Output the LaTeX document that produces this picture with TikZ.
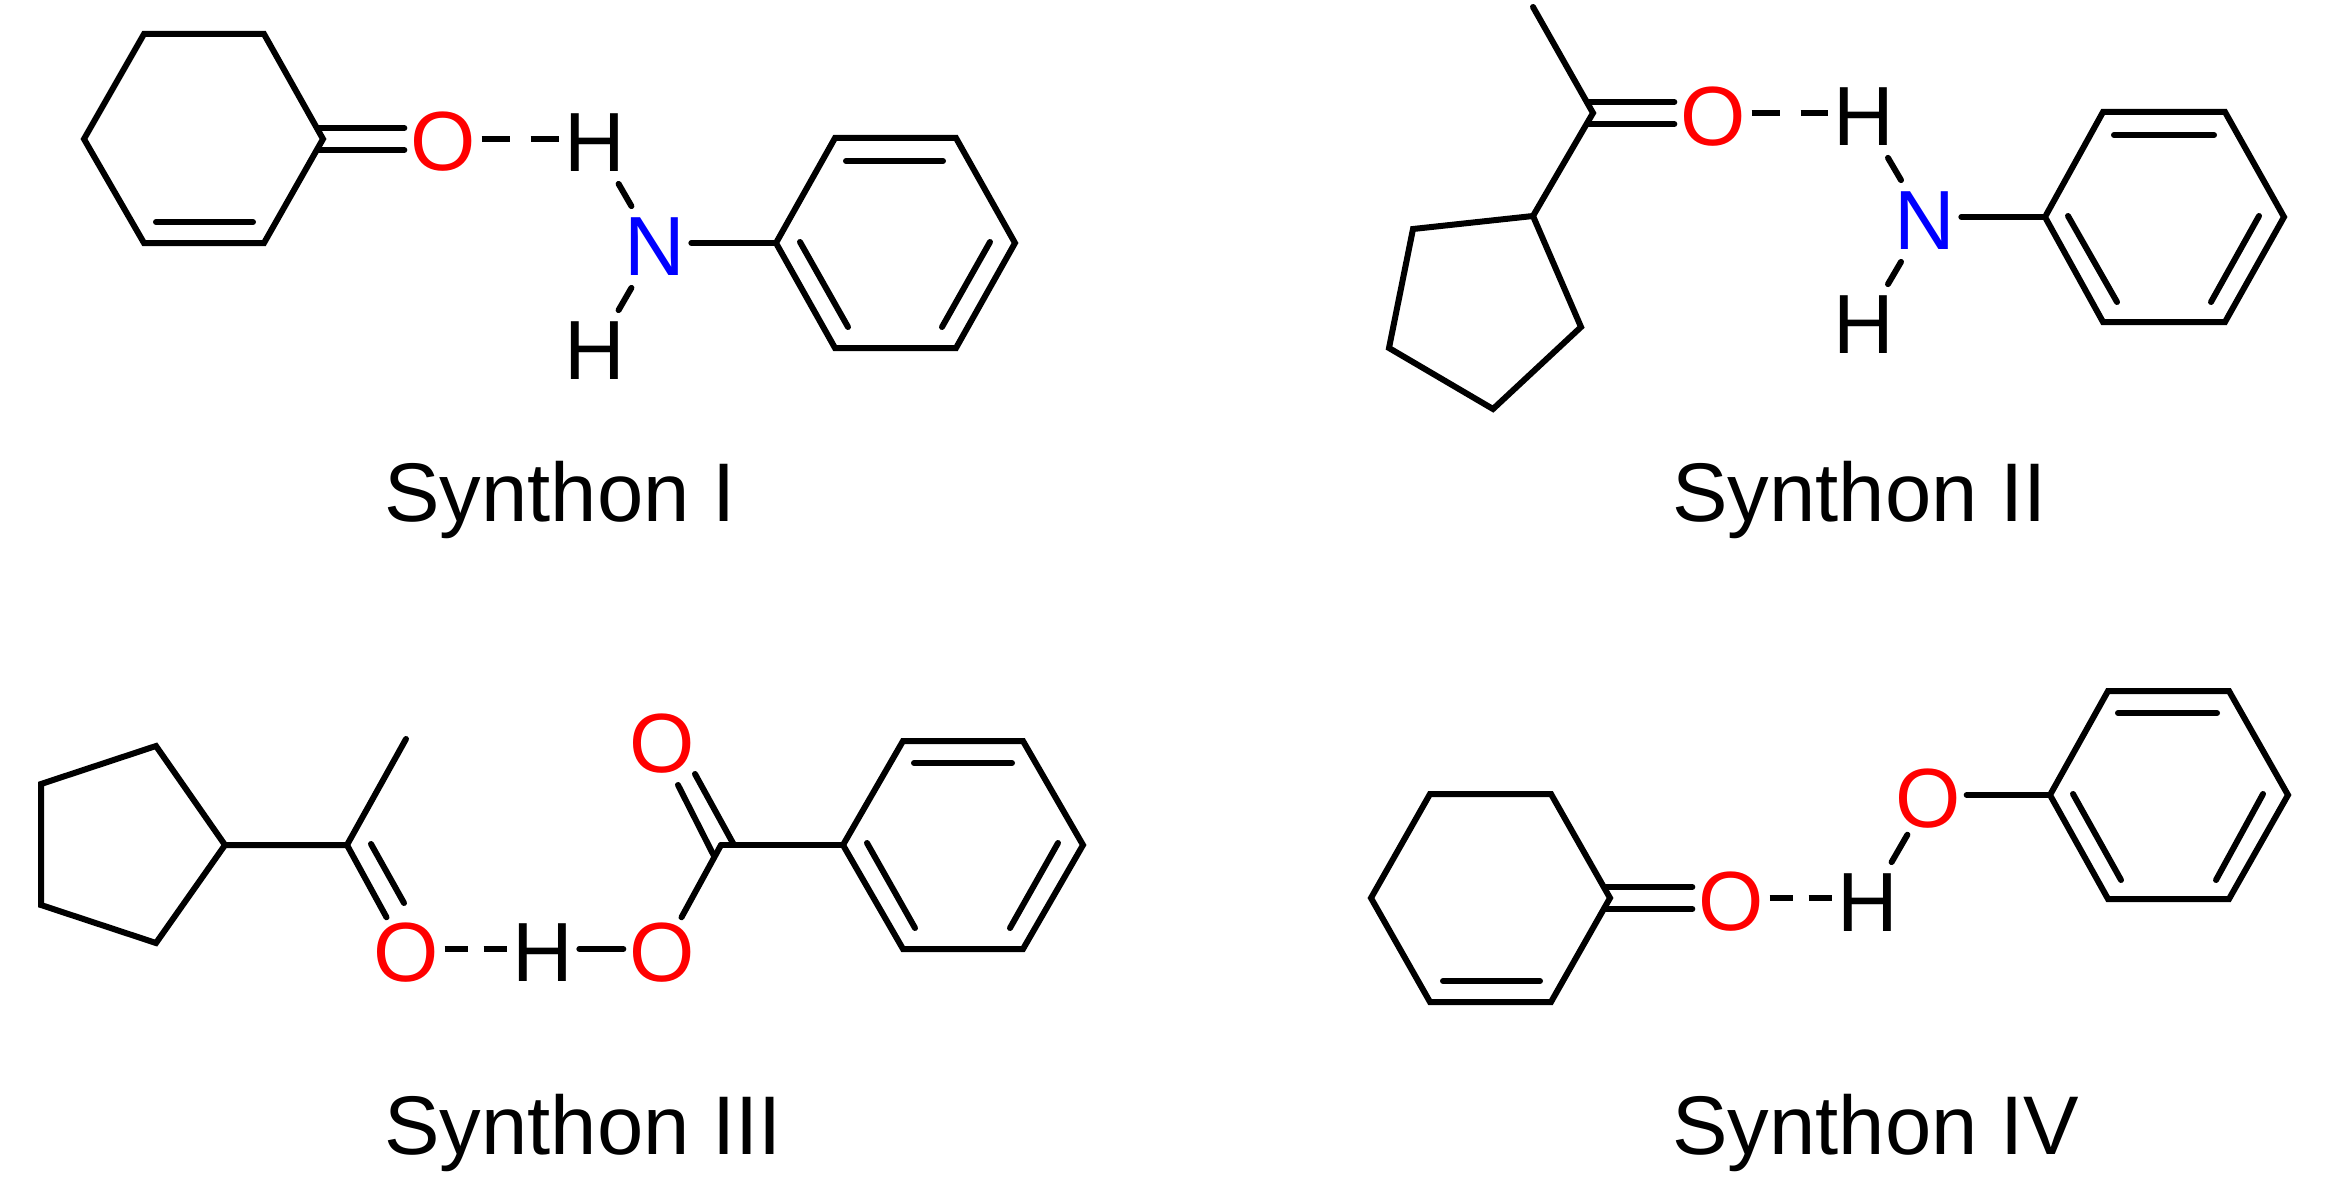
\documentclass[tikz,border=0pt]{standalone}
\usepackage{fontspec}
\setmainfont{Liberation Sans}
\tikzset{
	bond/.style={line width=3pt, line cap=round, line join=miter},
	hbondlong/.style={line width=3pt, dash pattern=on 14pt off 10.5pt},
	hbondshort/.style={line width=3pt, dash pattern=on 11.5pt off 8pt},
	atom/.style={font=\fontsize{42}{42}\selectfont, inner xsep=3pt, inner ysep=6pt, outer sep=0pt},
	oxygen/.style={atom, text=red, inner ysep=3pt},
	nitrogen/.style={atom, text=blue},
	hydrogen/.style={atom},
	caption/.style={font=\fontsize{41.6}{42}\selectfont, anchor=base west, inner sep=0pt}
}
\begin{document}
\begin{tikzpicture}[x=0.5pt, y=-0.5pt]
	\useasboundingbox (0,0) rectangle (2341,1204);

	% Synthon I
	\begin{scope}
		% Define the ring corners and the atoms
		\coordinate (a1) at (144,34); \coordinate (a2) at (264,34); \coordinate (a3) at (323,139);
		\coordinate (a4) at (264,243); \coordinate (a5) at (144,243); \coordinate (a6) at (84,139);
		\coordinate (a7) at (156,222); \coordinate (a8) at (253,222);
		\coordinate (a9) at (318,128); \coordinate (a10) at (318,150);
		\coordinate (b1) at (776,243); \coordinate (b2) at (835,138); \coordinate (b3) at (956,138);
		\coordinate (b4) at (1015,243); \coordinate (b5) at (956,348); \coordinate (b6) at (835,348);
		\coordinate (b7) at (846,161); \coordinate (b8) at (943,161);
		\coordinate (b9) at (800,242); \coordinate (b10) at (848,327);
		\coordinate (b11) at (990,242); \coordinate (b12) at (942,327);
		\node[oxygen] (o1) at (443,142) {O};
		\node[hydrogen] (h1) at (595,143) {H};
		\node[nitrogen] (n1) at (655,247) {N};
		\node[hydrogen] (h2) at (595,351) {H};
		\node[caption] (s1) at (384,521) {Synthon I};

		% Draw the bonds
		\draw[bond] (a1) -- (a2) -- (a3) -- (a4) -- (a5) -- (a6) -- cycle;
		\draw[bond] (a7) -- (a8);
		\draw[bond] (a9) -- (o1.west |- a9);
		\draw[bond] (a10) -- (o1.west |- a10);
		\draw[hbondlong] (o1.east |- a3) -- (h1.west |- a3);
		\draw[bond] (h1) -- (n1);
		\draw[bond] (n1) -- (h2);
		\draw[bond] (n1.east |- b1) -- (b1);
		\draw[bond] (b1) -- (b2) -- (b3) -- (b4) -- (b5) -- (b6) -- cycle;
		\draw[bond] (b7) -- (b8);
		\draw[bond] (b9) -- (b10);
		\draw[bond] (b11) -- (b12);
	\end{scope}

	% Synthon II
	\begin{scope}
		\coordinate (c1) at (1533,7); \coordinate (c2) at (1593,113); \coordinate (c3) at (1533,216);
		\coordinate (c4) at (1413,229); \coordinate (c5) at (1389,348);
		\coordinate (c6) at (1493,409); \coordinate (c7) at (1581,327);
		\coordinate (c8) at (1587,102); \coordinate (c9) at (1587,124);
		\coordinate (d1) at (2045,217); \coordinate (d2) at (2103,112); \coordinate (d3) at (2225,112);
		\coordinate (d4) at (2284,217); \coordinate (d5) at (2225,322); \coordinate (d6) at (2103,322);
		\coordinate (d7) at (2114,135); \coordinate (d8) at (2214,135);
		\coordinate (d9) at (2068,216); \coordinate (d10) at (2117,302);
		\coordinate (d11) at (2259,216); \coordinate (d12) at (2211,302);
		\node[oxygen] (o2) at (1713,117) {O};
		\node[hydrogen] (h3) at (1864,117) {H};
		\node[nitrogen] (n2) at (1925,221) {N};
		\node[hydrogen] (h4) at (1864,325) {H};
		\node[caption] (s2) at (1672,521) {Synthon II};

		\draw[bond] (c1) -- (c2) -- (c3);
		\draw[bond] (c3) -- (c4) -- (c5) -- (c6) -- (c7) -- cycle;
		\draw[bond] (c8) -- (o2.west |- c8);
		\draw[bond] (c9) -- (o2.west |- c9);
		\draw[hbondlong] (o2.east |- c2) -- (h3.west |- c2);
		\draw[bond] (h3) -- (n2);
		\draw[bond] (n2) -- (h4);
		\draw[bond] (n2.east |- d1) -- (d1);
		\draw[bond] (d1) -- (d2) -- (d3) -- (d4) -- (d5) -- (d6) -- cycle;
		\draw[bond] (d7) -- (d8);
		\draw[bond] (d9) -- (d10);
		\draw[bond] (d11) -- (d12);
	\end{scope}

	% Synthon III
	\begin{scope}
		\coordinate (e1) at (156,746); \coordinate (e2) at (41,784); \coordinate (e3) at (41,905);
		\coordinate (e4) at (156,943); \coordinate (e5) at (225,845);
		\coordinate (e6) at (347,845); \coordinate (e7) at (406,739);
		\coordinate (e8) at (371,844); \coordinate (e9) at (404,903);
		\coordinate (e10) at (721,845);
		\coordinate (e11) at (734,845); \coordinate (e12) at (695,774);
		\coordinate (e13) at (714,856); \coordinate (e14) at (678,785);
		\coordinate (f1) at (843,845); \coordinate (f2) at (903,741); \coordinate (f3) at (1023,741);
		\coordinate (f4) at (1083,845); \coordinate (f5) at (1023,949); \coordinate (f6) at (903,949);
		\coordinate (f7) at (914,763); \coordinate (f8) at (1012,763);
		\coordinate (f9) at (867,843); \coordinate (f10) at (915,928);
		\coordinate (f11) at (1058,843); \coordinate (f12) at (1010,928);
		\node[oxygen] (o3) at (406,953) {O};
		\node[hydrogen] (h5) at (543,953) {H};
		\node[oxygen] (o4) at (662,953) {O};
		\node[oxygen] (o5) at (662,744) {O};
		\node[caption] (s3) at (384,1154) {Synthon III};

		\draw[bond] (e1) -- (e2) -- (e3) -- (e4) -- (e5) -- cycle;
		\draw[bond] (e5) -- (e6) -- (e7);
		\draw[bond] (e6) -- (o3);
		\draw[bond] (e8) -- (e9);
		\draw[hbondshort] (o3.east |- f5) -- (h5.west |- f5);
		\draw[bond] (h5.east |- f5) -- (o4.west |- f5);
		\draw[bond] (o4) -- (e10);
		\draw[bond] (e10) -- (f1);
		\draw[bond] (e11) -- (e12);
		\draw[bond] (e13) -- (e14);
		\draw[bond] (f1) -- (f2) -- (f3) -- (f4) -- (f5) -- (f6) -- cycle;
		\draw[bond] (f7) -- (f8);
		\draw[bond] (f9) -- (f10);
		\draw[bond] (f11) -- (f12);
	\end{scope}

	% Synthon IV
	\begin{scope}
		\coordinate (g1) at (1430,794); \coordinate (g2) at (1551,794); \coordinate (g3) at (1610,898);
		\coordinate (g4) at (1551,1002); \coordinate (g5) at (1430,1002); \coordinate (g6) at (1371,898);
		\coordinate (g7) at (1443,981); \coordinate (g8) at (1540,981);
		\coordinate (g9) at (1606,887); \coordinate (g10) at (1606,909);
		\coordinate (k1) at (2050,795); \coordinate (k2) at (2108,691); \coordinate (k3) at (2229,691);
		\coordinate (k4) at (2288,795); \coordinate (k5) at (2229,899); \coordinate (k6) at (2108,899);
		\coordinate (k7) at (2118,713); \coordinate (k8) at (2217,713);
		\coordinate (k9) at (2073,794); \coordinate (k10) at (2121,880);
		\coordinate (k11) at (2263,794); \coordinate (k12) at (2216,880);
		\node[oxygen] (o6) at (1731,902) {O};
		\node[hydrogen] (h6) at (1868,903) {H};
		\node[oxygen] (o7) at (1928,799) {O};
		\node[caption] (s4) at (1672,1154) {Synthon IV};

		\draw[bond] (g1) -- (g2) -- (g3) -- (g4) -- (g5) -- (g6) -- cycle;
		\draw[bond] (g7) -- (g8);
		\draw[bond] (g9) -- (o6.west |- g9);
		\draw[bond] (g10) -- (o6.west |- g10);
		\draw[hbondshort] (o6.east |- g3) -- (h6.west |- g3);
		\draw[bond] (h6) -- (o7);
		\draw[bond] (o7.east |- k1) -- (k1);
		\draw[bond] (k1) -- (k2) -- (k3) -- (k4) -- (k5) -- (k6) -- cycle;
		\draw[bond] (k7) -- (k8);
		\draw[bond] (k9) -- (k10);
		\draw[bond] (k11) -- (k12);
	\end{scope}
\end{tikzpicture}
\end{document}
